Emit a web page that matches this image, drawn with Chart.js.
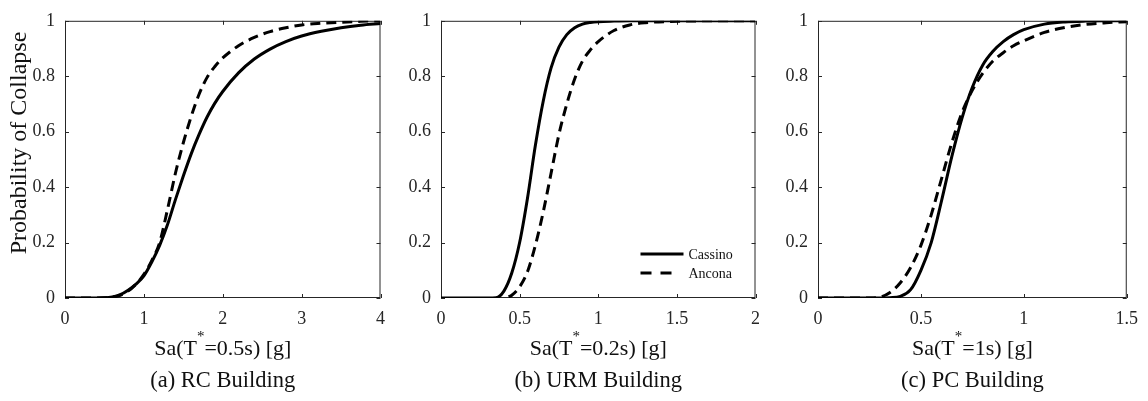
<!DOCTYPE html>
<html>
<head>
<meta charset="utf-8">
<script src="https://cdn.jsdelivr.net/npm/chart.js@4.4.1/dist/chart.umd.min.js"></script>
<style>
  html, body { margin: 0; padding: 0; background: #fff; }
  #wrap { position: relative; width: 1148px; height: 401px; }
  canvas { position: absolute; top: 0; }
</style>
</head>
<body>
<div id="wrap">
  <canvas id="chart-rc" width="395" height="401" style="left:0px"></canvas>
  <canvas id="chart-urm" width="375" height="401" style="left:395px"></canvas>
  <canvas id="chart-pc" width="378" height="401" style="left:770px"></canvas>
</div>
<script>
const SERIES_NAMES = ['Cassino', 'Ancona']
const Y_TICKS = [0, 0.2, 0.4, 0.6, 0.8, 1]

// (a) RC building
const rcSa = [0, 0.25, 0.5, 0.6, 0.7, 0.8, 0.9, 1.0, 1.1, 1.2, 1.3, 1.4, 1.5, 1.6, 1.7, 1.8, 1.9, 2.0, 2.2, 2.4, 2.6, 2.8, 3.0, 3.25, 3.5, 3.75, 4.0]
const rcCassino = [0, 0, 0.001, 0.004, 0.012, 0.028, 0.05, 0.08, 0.13, 0.19, 0.265, 0.355, 0.44, 0.52, 0.59, 0.652, 0.703, 0.745, 0.812, 0.862, 0.898, 0.925, 0.945, 0.962, 0.975, 0.984, 0.99]
const rcAncona = [0, 0, 0.001, 0.003, 0.01, 0.025, 0.05, 0.085, 0.135, 0.2, 0.32, 0.45, 0.56, 0.655, 0.735, 0.795, 0.835, 0.866, 0.91, 0.94, 0.961, 0.975, 0.985, 0.991, 0.995, 0.998, 1.0]
const rcTicks = [0, 1, 2, 3, 4]

// (b) URM building
const urmSa = [0, 0.3, 0.35, 0.4, 0.45, 0.5, 0.55, 0.6, 0.65, 0.7, 0.75, 0.8, 0.85, 0.9, 0.95, 1.0, 1.1, 1.2, 1.5, 2.0]
const urmCassino = [0, 0, 0.001, 0.025, 0.09, 0.2, 0.36, 0.55, 0.71, 0.83, 0.905, 0.95, 0.975, 0.988, 0.994, 0.997, 0.999, 1, 1, 1]
const urmAnconaSa = [0.43, 0.45, 0.5, 0.55, 0.6, 0.65, 0.7, 0.75, 0.8, 0.85, 0.9, 0.95, 1.0, 1.1, 1.2, 1.3, 1.5, 1.75, 2.0]
const urmAncona = [0.004, 0.01, 0.04, 0.095, 0.19, 0.31, 0.45, 0.59, 0.7, 0.79, 0.855, 0.895, 0.925, 0.965, 0.985, 0.993, 0.998, 1, 1]
const urmTicks = [0, 0.5, 1, 1.5, 2]

// (c) PC building
const pcSa = [0, 0.25, 0.3, 0.35, 0.4, 0.45, 0.5, 0.55, 0.6, 0.65, 0.7, 0.75, 0.8, 0.85, 0.9, 0.95, 1.0, 1.1, 1.2, 1.3, 1.4, 1.5]
const pcCassino = [0, 0, 0, 0.001, 0.006, 0.03, 0.1, 0.2, 0.35, 0.51, 0.65, 0.76, 0.84, 0.89, 0.925, 0.95, 0.968, 0.988, 0.996, 0.999, 1, 1]
const pcAncona = [0, 0, 0.003, 0.02, 0.055, 0.11, 0.19, 0.3, 0.43, 0.56, 0.67, 0.75, 0.81, 0.855, 0.885, 0.91, 0.928, 0.958, 0.976, 0.987, 0.993, 0.997]
const pcTicks = [0, 0.5, 1, 1.5]

const FAMILY = '"Liberation Serif", "Times New Roman", serif'
const AXIS_COLOR = '#262626'

function toPoints(xs, ys){
  return xs.map((x, i) => ({x: x, y: ys[i]}))
}

function line(ctx, x1, y1, x2, y2){
  ctx.beginPath()
  ctx.moveTo(x1, y1)
  ctx.lineTo(x2, y2)
  ctx.stroke()
}

// box, inward ticks, titles and legend drawn the matlab way
const decorPlugin = {
  id: 'decor',
  beforeDatasetsDraw(chart){
    const {ctx, chartArea: a, scales} = chart
    const TL = 4
    ctx.save()
    ctx.strokeStyle = AXIS_COLOR
    ctx.lineWidth = 1
    ctx.strokeRect(a.left + 0.5, a.top + 0.5, a.right - a.left - 1, a.bottom - a.top - 1)
    scales.x.ticks.forEach(t => {
      const px = Math.round(scales.x.getPixelForValue(t.value)) + 0.5
      line(ctx, px, a.bottom, px, a.bottom - TL)
      line(ctx, px, a.top, px, a.top + TL)
    })
    scales.y.ticks.forEach(t => {
      const py = Math.round(scales.y.getPixelForValue(t.value)) + 0.5
      line(ctx, a.left, py, a.left + TL, py)
      line(ctx, a.right, py, a.right - TL, py)
    })
    ctx.restore()
  },
  afterDraw(chart, args, opts){
    const {ctx, chartArea: a} = chart
    const cx = (a.left + a.right) / 2
    ctx.save()
    ctx.fillStyle = '#111'
    ctx.textBaseline = 'alphabetic'

    // x axis title with superscript star
    const [pre, sup, post] = opts.xTitle
    const mainFont = '22px ' + FAMILY
    const supFont = '15px ' + FAMILY
    ctx.font = mainFont
    const w1 = ctx.measureText(pre).width
    const w3 = ctx.measureText(post).width
    ctx.font = supFont
    const w2 = ctx.measureText(sup).width
    let x = cx - (w1 + w2 + w3) / 2
    const base = a.bottom + 57
    ctx.textAlign = 'left'
    ctx.font = mainFont
    ctx.fillText(pre, x, base)
    x += w1
    ctx.font = supFont
    ctx.fillText(sup, x, base - 14)
    x += w2
    ctx.font = mainFont
    ctx.fillText(post, x, base)

    // caption under the axis title
    ctx.textAlign = 'center'
    ctx.font = '22.5px ' + FAMILY
    ctx.fillText(opts.caption, cx, a.bottom + 89)

    if(opts.yTitle){
      ctx.save()
      ctx.translate(26, 143)
      ctx.rotate(-Math.PI / 2)
      ctx.font = '24px ' + FAMILY
      ctx.textAlign = 'center'
      ctx.fillText(opts.yTitle, 0, 0)
      ctx.restore()
    }

    if(opts.legend){
      chart.data.datasets.forEach((ds, i) => {
        const y = a.bottom - 44 + i * 19
        ctx.strokeStyle = ds.borderColor
        ctx.lineWidth = ds.borderWidth
        if(ds.borderDash){
          ctx.setLineDash([11, 9])
          line(ctx, a.right - 115, y, a.right - 84, y)
        } else {
          ctx.setLineDash([])
          line(ctx, a.right - 115, y, a.right - 72, y)
        }
        ctx.setLineDash([])
        ctx.font = '14px ' + FAMILY
        ctx.textAlign = 'left'
        ctx.textBaseline = 'middle'
        ctx.fillStyle = '#111'
        ctx.fillText(ds.label, a.right - 67, y + 1)
      })
    }
    ctx.restore()
  }
}

function makeChart(id, cfg){
  const canvas = document.getElementById(id)
  return new Chart(canvas, {
    type: 'line',
    data: {
      datasets: [{
        label: SERIES_NAMES[0],
        data: cfg.cassino,
        borderColor: '#000',
        borderWidth: 3,
        pointRadius: 0,
        cubicInterpolationMode: 'monotone'
      }, {
        label: SERIES_NAMES[1],
        data: cfg.ancona,
        borderColor: '#000',
        borderWidth: 3,
        borderDash: [10, 6],
        pointRadius: 0,
        cubicInterpolationMode: 'monotone'
      }]
    },
    options: {
      responsive: false,
      animation: false,
      events: [],
      layout: {padding: {top: 15, right: cfg.rightPad, left: 0, bottom: 0}},
      plugins: {
        legend: {display: false},
        tooltip: {enabled: false},
        decor: {xTitle: cfg.xTitle, caption: cfg.caption, yTitle: cfg.yTitle, legend: cfg.legend}
      },
      scales: {
        x: {
          type: 'linear',
          min: 0,
          max: cfg.xTicks[cfg.xTicks.length - 1],
          afterBuildTicks: s => { s.ticks = cfg.xTicks.map(v => ({value: v})) },
          afterFit: s => { s.height = 103 },
          grid: {display: false, drawTicks: false},
          border: {display: false},
          ticks: {
            padding: 10,
            autoSkip: false,
            maxRotation: 0,
            color: AXIS_COLOR,
            font: {family: FAMILY, size: 18},
            callback: v => String(v)
          }
        },
        y: {
          type: 'linear',
          min: 0,
          max: 1,
          afterBuildTicks: s => { s.ticks = Y_TICKS.map(v => ({value: v})) },
          afterFit: s => { s.width = cfg.yWidth },
          grid: {display: false, drawTicks: false},
          border: {display: false},
          ticks: {
            padding: 10,
            color: AXIS_COLOR,
            font: {family: FAMILY, size: 18},
            callback: v => String(v)
          }
        }
      }
    },
    plugins: [decorPlugin]
  })
}

makeChart('chart-rc', {
  cassino: toPoints(rcSa, rcCassino),
  ancona: toPoints(rcSa, rcAncona),
  xTicks: rcTicks,
  yWidth: 65,
  rightPad: 14,
  xTitle: ['Sa(T', '*', '=0.5s) [g]'],
  caption: '(a) RC Building',
  yTitle: 'Probability of Collapse',
  legend: false
})

makeChart('chart-urm', {
  cassino: toPoints(urmSa, urmCassino),
  ancona: toPoints(urmAnconaSa, urmAncona),
  xTicks: urmTicks,
  yWidth: 46,
  rightPad: 13,
  xTitle: ['Sa(T', '*', '=0.2s) [g]'],
  caption: '(b) URM Building',
  yTitle: null,
  legend: true
})

makeChart('chart-pc', {
  cassino: toPoints(pcSa, pcCassino),
  ancona: toPoints(pcSa, pcAncona),
  xTicks: pcTicks,
  yWidth: 48,
  rightPad: 16,
  xTitle: ['Sa(T', '*', '=1s) [g]'],
  caption: '(c) PC Building',
  yTitle: null,
  legend: false
})
</script>
</body>
</html>
